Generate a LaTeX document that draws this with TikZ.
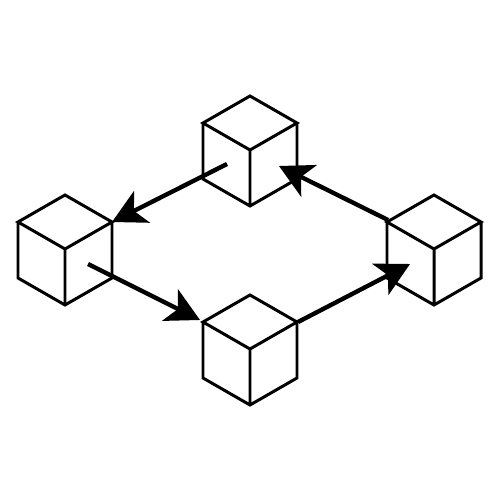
\documentclass[tikz,border=0pt]{standalone}
\usetikzlibrary{arrows.meta}

\tikzset{
  block/.pic={
    \draw [line width=1.7pt] (0,0) -- (-47,-27) -- (0,-54) -- (47,-27) -- cycle
      (0,0) -- (0,56) (-47,-27) -- (-47,29) -- (0,56) -- (47,29) -- (47,-27);
  },
  link/.style={line width=2.5pt, -{Stealth[length=19pt, width=20pt, inset=5pt]}}
}

\begin{document}
\begin{tikzpicture}[x=0.02cm, y=-0.02cm]
\useasboundingbox (0,0) rectangle (500,500);
% the four blocks
\coordinate (blockN) at (250,150);
\coordinate (blockW) at (65,249);
\coordinate (blockS) at (250,349);
\coordinate (blockE) at (434,249);
\pic at (blockN) {block};
\pic at (blockW) {block};
\pic at (blockS) {block};
\pic at (blockE) {block};
% arrow ends
\coordinate (outN) at ([shift={(-23,14)}]blockN);
\coordinate (inW) at ([shift={(47,-27)}]blockW);
\coordinate (outW) at ([shift={(23,15)}]blockW);
\coordinate (inS) at ([shift={(-50,-29)}]blockS);
\coordinate (outS) at ([shift={(48,-27)}]blockS);
\coordinate (inE) at ([shift={(-24,15)}]blockE);
\coordinate (outE) at ([shift={(-46,-29)}]blockE);
\coordinate (inN) at ([shift={(29,16)}]blockN);
\draw [link] (outN) to (inW);
\draw [link] (outW) to (inS);
\draw [link] (outS) to (inE);
\draw [link] (outE) to (inN);
\end{tikzpicture}
\end{document}
